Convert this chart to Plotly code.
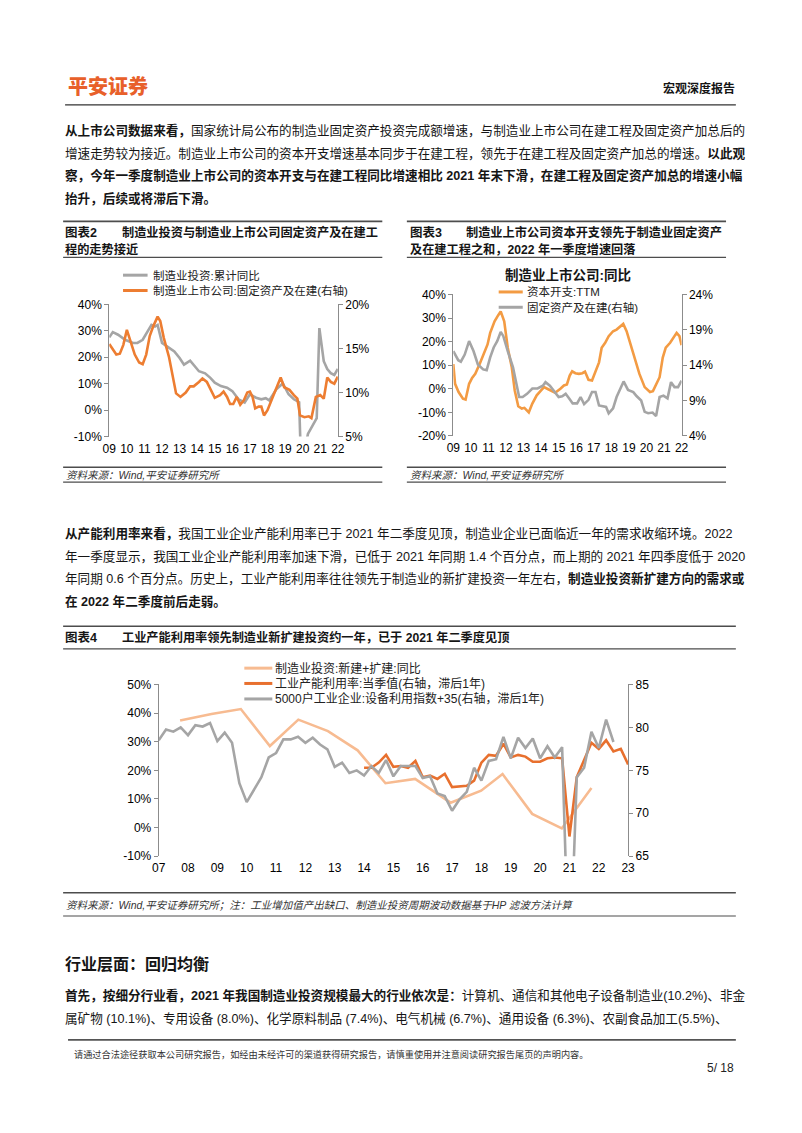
import plotly.graph_objects as go

# 页面 802x1133，浏览器 body 自带 8px 边距，图本身略小一些以免溢出
PAGE_W, PAGE_H = 802, 1133
OFF = 8
W, H = PAGE_W - 2 * OFF - 4, PAGE_H - 2 * OFF - 8
FONT = "Liberation Sans, Noto Sans CJK SC, sans-serif"
AXC = "#8c8c8c"

# ---- 图表2 数据 ----
c2_years = list(range(2009, 2023))
c2_inv_t = [2009.0, 2009.2, 2009.5, 2009.9, 2010.35, 2010.6, 2010.9, 2011.2, 2011.4, 2011.6,
            2011.75, 2012.0, 2012.3, 2012.7, 2013.0, 2013.25, 2013.6, 2013.8, 2014.1, 2014.45,
            2014.75, 2015.0, 2015.35, 2015.7, 2016.0, 2016.35, 2016.7, 2017.0, 2017.35, 2017.65,
            2017.9, 2018.1, 2018.5, 2018.87, 2019.2, 2019.5, 2019.8, 2019.93, 2020.15, 2020.3,
            2020.5, 2020.7, 2020.8, 2020.95, 2021.1, 2021.2, 2021.4, 2021.6, 2021.8, 2022.0]
c2_inv_v = [27.5, 29.5, 28.5, 26.6, 25.4, 25.4, 26.6, 29.7, 32.2, 31.6,
            32.2, 25.4, 24.1, 22.2, 19.7, 17.2, 18.7, 17.2, 14.7, 13.9,
            12.2, 10.4, 9.1, 8.5, 7.2, 4.1, 2.9, 6.0, 4.7, 4.1,
            4.5, 3.7, 7.9, 10.1, 6.0, 4.1, 3.0, -25.0, -14.0, -9.0,
            -6.5, -4.0, -3.0, 31.0, 22.0, 18.5, 15.5, 14.0, 13.3, 15.6]
c2_cap_t = [2009.0, 2009.2, 2009.4, 2009.6, 2009.8, 2010.0, 2010.2, 2010.45, 2010.7, 2010.9,
            2011.1, 2011.3, 2011.5, 2011.75, 2011.9, 2012.1, 2012.4, 2012.6, 2012.8, 2013.05,
            2013.35, 2013.6, 2013.8, 2014.1, 2014.3, 2014.55, 2014.75, 2015.0, 2015.3, 2015.5,
            2015.7, 2015.87, 2016.05, 2016.25, 2016.45, 2016.65, 2016.85, 2017.0, 2017.15, 2017.3,
            2017.5, 2017.65, 2017.8, 2018.0, 2018.3, 2018.55, 2018.75, 2018.95, 2019.25, 2019.5,
            2019.7, 2019.85, 2020.1, 2020.35, 2020.5, 2020.75, 2021.0, 2021.2, 2021.4, 2021.6,
            2021.8, 2022.0]
c2_cap_v = [15.5, 14.9, 14.3, 14.4, 15.4, 17.1, 15.8, 14.3, 13.4, 13.2,
            14.3, 16.4, 17.5, 18.6, 18.1, 16.2, 14.0, 11.7, 9.9, 9.5,
            10.0, 10.7, 10.7, 11.2, 11.6, 11.2, 10.4, 9.4, 9.7, 10.1,
            9.5, 8.7, 8.7, 9.5, 8.6, 9.1, 10.0, 10.1, 9.5, 8.2,
            8.4, 8.4, 7.4, 8.0, 9.5, 10.8, 11.7, 10.6, 10.3, 9.7,
            9.3, 7.4, 7.2, 7.3, 7.1, 9.5, 9.7, 9.3, 11.7, 11.2,
            11.0, 11.8]

# ---- 图表3 数据 ----
c3_capex_t = [2009.0, 2009.1, 2009.3, 2009.55, 2009.7, 2009.9, 2010.07, 2010.25, 2010.5, 2010.75,
              2010.95, 2011.1, 2011.35, 2011.55, 2011.7, 2011.9, 2012.1, 2012.33, 2012.5, 2012.7,
              2012.9, 2013.05, 2013.2, 2013.3, 2013.5, 2013.75, 2014.0, 2014.17, 2014.35, 2014.55,
              2014.8, 2015.1, 2015.3, 2015.47, 2015.63, 2015.77, 2015.95, 2016.15, 2016.35, 2016.5,
              2016.7, 2016.9, 2017.1, 2017.3, 2017.45, 2017.65, 2017.85, 2018.1, 2018.3, 2018.5,
              2018.68, 2018.87, 2019.15, 2019.4, 2019.6, 2019.9, 2020.2, 2020.37, 2020.55, 2020.75,
              2020.93, 2021.1, 2021.35, 2021.55, 2021.72, 2021.88, 2022.0]
c3_capex_v = [10.5, 2.1, -1.4, -4.2, -4.6, 2.1, 4.6, 6.3, 10.5, 15.3,
              18.8, 23.7, 28.6, 31.1, 32.8, 28.6, 17.4, 9.1, -0.7, -7.4,
              -8.4, -8.1, -9.3, -10.0, -6.3, -2.8, -0.7, 0.7, 0.0, -0.7,
              -1.7, 0.0, 1.4, 1.8, 5.6, 7.4, 6.6, 6.3, 6.6, 7.3,
              3.8, 3.5, 7.7, 11.2, 17.4, 19.5, 22.3, 24.4, 25.1, 26.5,
              27.5, 24.4, 17.4, 11.2, 6.3, 0.7, -1.4, -1.0, 2.1, 4.9,
              13.2, 17.4, 19.5, 21.6, 23.7, 22.3, 18.5]
c3_fa_t = [2009.0, 2009.28, 2009.43, 2009.65, 2009.9, 2010.15, 2010.4, 2010.7, 2010.9, 2011.1,
           2011.3, 2011.5, 2011.7, 2011.85, 2012.1, 2012.4, 2012.6, 2012.75, 2012.95, 2013.2,
           2013.5, 2013.8, 2014.1, 2014.25, 2014.5, 2014.7, 2015.0, 2015.2, 2015.4, 2015.6,
           2015.8, 2016.05, 2016.25, 2016.45, 2016.7, 2016.9, 2017.1, 2017.3, 2017.5, 2017.7,
           2017.85, 2018.1, 2018.3, 2018.5, 2018.7, 2018.95, 2019.25, 2019.45, 2019.7, 2019.9,
           2020.1, 2020.35, 2020.55, 2020.75, 2020.97, 2021.2, 2021.4, 2021.6, 2021.8, 2022.0]
c3_fa_v = [16.0, 14.7, 14.5, 15.5, 17.4, 16.0, 14.1, 13.4, 13.3, 15.1,
           16.5, 17.4, 18.7, 18.1, 16.0, 13.7, 11.3, 9.5, 9.5, 9.95,
           10.7, 10.7, 11.1, 11.6, 11.1, 10.4, 9.5, 9.6, 9.95, 9.3,
           8.6, 8.6, 9.5, 8.5, 9.1, 10.2, 10.2, 8.3, 8.2, 8.1,
           7.2, 7.9, 9.5, 10.7, 11.7, 10.5, 10.2, 9.6, 9.0, 7.4,
           7.2, 7.3, 6.8, 9.5, 9.7, 9.3, 11.6, 10.9, 10.9, 11.8]

# ---- 图表4 数据 ----
c4_years = list(range(2007, 2024))
c4_new_t = [2007.73, 2008.8, 2009.8, 2010.79, 2011.76, 2012.77, 2013.78, 2014.73, 2015.74,
            2016.95, 2017.99, 2018.72, 2019.73, 2020.74, 2021.75]
c4_new_v = [37.4, 39.7, 41.4, 28.5, 37.7, 33.7, 27.0, 15.5, 17.0,
            8.7, 12.9, 18.7, 4.8, -0.3, 13.8]
c4_cu_t = [2014.0, 2014.25, 2014.5, 2014.75, 2015.0, 2015.25, 2015.5, 2015.75, 2016.0, 2016.25,
           2016.5, 2016.75, 2017.0, 2017.25, 2017.5, 2017.75, 2018.0, 2018.25, 2018.5, 2018.75,
           2019.0, 2019.25, 2019.5, 2019.75, 2020.0, 2020.25, 2020.5, 2020.75, 2021.0, 2021.25,
           2021.5, 2021.75, 2022.0, 2022.25, 2022.5, 2022.75, 2023.0]
c4_cu_v = [75.3, 75.3, 75.9, 76.8, 75.4, 75.5, 75.3, 76.1, 74.2, 74.4,
           74.0, 74.6, 73.05, 73.1, 73.2, 73.8, 75.9, 76.8, 76.7, 78.1,
           76.5, 76.8, 76.6, 76.0, 76.0, 76.4, 76.5, 76.4, 67.3, 74.2,
           76.3, 78.2, 77.5, 78.5, 77.2, 77.5, 75.7]
c4_eq_t = [2007.0, 2007.25, 2007.5, 2007.75, 2008.0, 2008.25, 2008.5, 2008.75, 2009.0, 2009.25,
           2009.5, 2009.75, 2010.0, 2010.25, 2010.5, 2010.75, 2011.0, 2011.25, 2011.5, 2011.75,
           2012.0, 2012.25, 2012.5, 2012.75, 2013.0, 2013.25, 2013.5, 2013.75, 2014.0, 2014.25,
           2014.5, 2014.75, 2015.0, 2015.25, 2015.5, 2015.75, 2016.0, 2016.25, 2016.5, 2016.75,
           2017.0, 2017.25, 2017.5, 2017.75, 2018.0, 2018.25, 2018.5, 2018.75, 2019.0, 2019.25,
           2019.5, 2019.75, 2020.0, 2020.25, 2020.5, 2020.75, 2021.0, 2021.25, 2021.5, 2021.75,
           2022.0, 2022.25, 2022.5]
c4_eq_v = [78.5, 79.75, 79.5, 80.0, 79.1, 80.25, 80.1, 80.5, 78.4, 79.4,
           78.2, 73.5, 71.3, 72.7, 74.2, 76.5, 77.0, 78.6, 78.6, 78.9,
           78.2, 78.8, 78.0, 77.45, 75.4, 75.9, 74.7, 75.0, 74.4, 75.5,
           74.7, 76.2, 74.3, 75.5, 75.5, 75.5, 74.1, 74.3, 72.3, 72.0,
           70.3, 71.6, 72.5, 75.3, 73.8, 76.1, 76.3, 78.9, 76.4, 78.8,
           77.6, 78.7, 76.4, 77.8, 76.5, 77.7, 50.0, 74.2, 75.3, 79.5,
           77.6, 80.9, 78.3]


def px(v):
    return (v - OFF) / W


def py(v):
    return 1 - (v - OFF) / H


def pct(vals):
    return [f"{v}%" for v in vals]


fig = go.Figure()


def note(x, y, s, size=13, color="#151515", anchor="left", bold=False, italic=False, weight=None):
    fig.add_annotation(x=px(x), y=py(y), xref="paper", yref="paper", text=s, showarrow=False,
                       xanchor=anchor, yanchor="middle", borderpad=0,
                       font=dict(family=FONT, size=size, color=color,
                                 weight=weight or ("bold" if bold else "normal"),
                                 style="italic" if italic else "normal"))


def rule(x0, x1, y, width=1.4, color="#4d4d4d"):
    fig.add_shape(type="line", xref="paper", yref="paper", x0=px(x0), x1=px(x1),
                  y0=py(y), y1=py(y), line=dict(color=color, width=width))


def yaxis(dom, rng, vals, text, side="left", anchor="x", overlay=None):
    d = dict(range=rng, tickvals=vals, ticktext=text, side=side, anchor=anchor,
             showline=True, linecolor=AXC, linewidth=1, ticks="outside", ticklen=4,
             tickcolor=AXC, showgrid=False, zeroline=False,
             tickfont=dict(family=FONT, size=12, color="#000"))
    if overlay:
        d["overlaying"] = overlay
    else:
        d["domain"] = dom
    return d


def xaxis(dom, rng, years, anchor):
    return dict(domain=dom, range=rng, anchor=anchor, tickvals=years,
                ticktext=[f"{y % 100:02d}" for y in years], showline=False, ticks="",
                showgrid=False, zeroline=False, ticklabelstandoff=3,
                tickfont=dict(family=FONT, size=12, color="#000"))


def zero_axis(base, rng, years, pos):
    return dict(overlaying=base, anchor="free", position=pos, range=rng, tickvals=years,
                showticklabels=False, showline=True, linecolor=AXC, linewidth=1,
                ticks="inside", ticklen=4, tickcolor=AXC, showgrid=False, zeroline=False)


def zero_pos(dom, rng):
    return dom[0] + (0 - rng[0]) / (rng[1] - rng[0]) * (dom[1] - dom[0])


# ---- 坐标区域 ----
d2x, d2y = [px(104), px(336.7)], [py(435), py(301)]
d3x, d3y = [px(454.3), px(686.7)], [py(434.3), py(291)]
d4x, d4y = [px(154.3), px(632.3)], [py(860), py(686)]
r2l, r2r = [-10, 40], [5, 20]
r3l, r3r = [-20, 40], [4, 24]
r4l, r4r = [-10, 50], [65, 85]

# ---- 折线 ----
fig.add_trace(go.Scatter(x=c2_inv_t, y=c2_inv_v, mode="lines", xaxis="x", yaxis="y",
                         line=dict(color="#a5a5a5", width=2.6), name="制造业投资:累计同比"))
fig.add_trace(go.Scatter(x=c2_cap_t, y=c2_cap_v, mode="lines", xaxis="x", yaxis="y2",
                         line=dict(color="#ed7d31", width=2.6), name="制造业上市公司:固定资产及在建(右轴)"))
fig.add_trace(go.Scatter(x=c3_capex_t, y=c3_capex_v, mode="lines", xaxis="x3", yaxis="y3",
                         line=dict(color="#f39b43", width=2.6), name="资本开支:TTM"))
fig.add_trace(go.Scatter(x=c3_fa_t, y=c3_fa_v, mode="lines", xaxis="x3", yaxis="y4",
                         line=dict(color="#a5a5a5", width=2.6), name="固定资产及在建(右轴)"))
fig.add_trace(go.Scatter(x=c4_new_t, y=c4_new_v, mode="lines", xaxis="x5", yaxis="y5",
                         line=dict(color="#f7bb91", width=2.6), name="制造业投资:新建+扩建:同比"))
fig.add_trace(go.Scatter(x=c4_cu_t, y=c4_cu_v, mode="lines", xaxis="x5", yaxis="y6",
                         line=dict(color="#e8702e", width=2.6), name="工业产能利用率:当季值(右轴，滞后1年)"))
fig.add_trace(go.Scatter(x=c4_eq_t, y=c4_eq_v, mode="lines", xaxis="x5", yaxis="y6",
                         line=dict(color="#a5a5a5", width=2.6), name="5000户工业企业:设备利用指数+35(右轴，滞后1年)"))

fig.update_layout(
    width=W, height=H, margin=dict(l=0, r=0, t=0, b=0),
    paper_bgcolor="white", plot_bgcolor="white", showlegend=False,
    font=dict(family=FONT, color="#000"),
    xaxis=xaxis(d2x, [2009, 2022], c2_years, "y"),
    xaxis2=zero_axis("x", [2009, 2022], c2_years, zero_pos(d2y, r2l)),
    yaxis=yaxis(d2y, r2l, [-10, 0, 10, 20, 30, 40], pct([-10, 0, 10, 20, 30, 40])),
    yaxis2=yaxis(None, r2r, [5, 10, 15, 20], pct([5, 10, 15, 20]), "right", "x", "y"),
    xaxis3=xaxis(d3x, [2009, 2022], c2_years, "y3"),
    xaxis4=zero_axis("x3", [2009, 2022], c2_years, zero_pos(d3y, r3l)),
    yaxis3=yaxis(d3y, r3l, [-20, -10, 0, 10, 20, 30, 40], pct([-20, -10, 0, 10, 20, 30, 40]), anchor="x3"),
    yaxis4=yaxis(None, r3r, [4, 9, 14, 19, 24], pct([4, 9, 14, 19, 24]), "right", "x3", "y3"),
    xaxis5=xaxis(d4x, [2007, 2023], c4_years, "y5"),
    xaxis6=zero_axis("x5", [2007, 2023], c4_years, zero_pos(d4y, r4l)),
    yaxis5=yaxis(d4y, r4l, [-10, 0, 10, 20, 30, 40, 50], pct([-10, 0, 10, 20, 30, 40, 50]), anchor="x5"),
    yaxis6=yaxis(None, r4r, [65, 70, 75, 80, 85], ["65", "70", "75", "80", "85"], "right", "x5", "y5"),
)

# ---- 页眉 ----
note(61, 80, "平安证券", size=20, color="#e8602a", weight=900)
note(742, 82, "宏观深度报告", size=12, anchor="right", bold=True)
rule(59, 742, 99, width=1.3, color="#333")

# ---- 正文段落1 ----
p1 = [
    "<b>从上市公司数据来看，</b>国家统计局公布的制造业固定资产投资完成额增速，与制造业上市公司在建工程及固定资产加总后的",
    "增速走势较为接近。制造业上市公司的资本开支增速基本同步于在建工程，领先于在建工程及固定资产加总的增速。<b>以此观</b>",
    "<b>察，今年一季度制造业上市公司的资本开支与在建工程同比增速相比 2021 年末下滑，在建工程及固定资产加总的增速小幅</b>",
    "<b>抬升，后续或将滞后下滑。</b>",
]
for i, s in enumerate(p1):
    note(58, 125 + i * 23, s, size=12.6)

# ---- 图表2 框 ----
rule(57, 382, 217, width=1.6)
note(58, 228.5, "图表2", size=12.5, bold=True)
note(116, 228.5, "制造业投资与制造业上市公司固定资产及在建工", size=12.2, bold=True)
note(58, 245.5, "程的走势接近", size=12.2, bold=True)
rule(57, 382, 253.5, width=1.2)
rule(118, 143, 271.5, width=3, color="#a5a5a5")
note(147, 271.5, "制造业投资:累计同比", size=11.5, color="#222")
rule(118, 143, 287, width=3, color="#ed7d31")
note(147, 287, "制造业上市公司:固定资产及在建(右轴)", size=11.5, color="#222")
rule(57, 382, 466, width=1.4)
note(59, 473.5, "资料来源：Wind,平安证券研究所", size=10.5, color="#333", italic=True)
rule(57, 382, 481, width=1.2)

# ---- 图表3 框 ----
rule(407, 732, 217, width=1.6)
note(409, 228.5, "图表3", size=12.5, bold=True)
note(466, 228.5, "制造业上市公司资本开支领先于制造业固定资产", size=12.2, bold=True)
note(409, 245.5, "及在建工程之和，2022 年一季度增速回落", size=12.2, bold=True)
rule(407, 732, 253.5, width=1.2)
note(571.5, 271.5, "制造业上市公司:同比", size=13.5, anchor="center", bold=True)
rule(500.5, 525, 288.5, width=3, color="#f39b43")
note(528, 288.5, "资本开支:TTM", size=11.5, color="#222")
rule(500.5, 525, 304, width=3, color="#a5a5a5")
note(528, 304, "固定资产及在建(右轴)", size=11.5, color="#222")
rule(407, 732, 466, width=1.4)
note(409, 473.5, "资料来源：Wind,平安证券研究所", size=10.5, color="#333", italic=True)
rule(407, 732, 481, width=1.2)

# ---- 正文段落2 ----
p2 = [
    "<b>从产能利用率来看，</b>我国工业企业产能利用率已于 2021 年二季度见顶，制造业企业已面临近一年的需求收缩环境。2022",
    "年一季度显示，我国工业企业产能利用率加速下滑，已低于 2021 年同期 1.4 个百分点，而上期的 2021 年四季度低于 2020",
    "年同期 0.6 个百分点。历史上，工业产能利用率往往领先于制造业的新扩建投资一年左右，<b>制造业投资新扩建方向的需求或</b>",
    "<b>在 2022 年二季度前后走弱。</b>",
]
for i, s in enumerate(p2):
    note(58, 533 + i * 23, s, size=12.6)

# ---- 图表4 框 ----
rule(57, 742, 627, width=1.6)
note(58, 638, "图表4", size=12.5, bold=True)
note(116, 638, "工业产能利用率领先制造业新扩建投资约一年，已于 2021 年二季度见顶", size=12.2, bold=True)
rule(57, 742, 650, width=1.2)
rule(241.5, 270, 669.5, width=3, color="#f7bb91")
note(272, 669.5, "制造业投资:新建+扩建:同比", size=12, color="#222")
rule(241.5, 270, 685, width=3, color="#e8702e")
note(272, 685, "工业产能利用率:当季值(右轴，滞后1年)", size=12, color="#222")
rule(241.5, 270, 700.7, width=3, color="#a5a5a5")
note(272, 700.7, "5000户工业企业:设备利用指数+35(右轴，滞后1年)", size=12, color="#222")
rule(57, 742, 897, width=1.4)
note(59, 909, "资料来源：Wind,平安证券研究所；注：工业增加值产出缺口、制造业投资周期波动数据基于HP 滤波方法计算",
     size=10.5, color="#333", italic=True)
rule(57, 742, 920.5, width=1.2)

# ---- 行业层面 ----
note(58, 969, "行业层面：回归均衡", size=16, bold=True)
p3 = [
    "<b>首先，按细分行业看，2021 年我国制造业投资规模最大的行业依次是：</b>计算机、通信和其他电子设备制造业(10.2%)、非金",
    "属矿物 (10.1%)、专用设备 (8.0%)、化学原料制品 (7.4%)、电气机械 (6.7%)、通用设备 (6.3%)、农副食品加工(5.5%)、",
]
for i, s in enumerate(p3):
    note(58, 1001 + i * 23, s, size=12.6)

# ---- 页脚 ----
rule(62, 742, 1046, width=1.6, color="#555")
note(67, 1061, "请通过合法途径获取本公司研究报告，如经由未经许可的渠道获得研究报告，请慎重使用并注意阅读研究报告尾页的声明内容。",
     size=9.2, color="#333")
note(741, 1074, "5/ 18", size=12, anchor="right", color="#222")

fig.write_html("out.html")
